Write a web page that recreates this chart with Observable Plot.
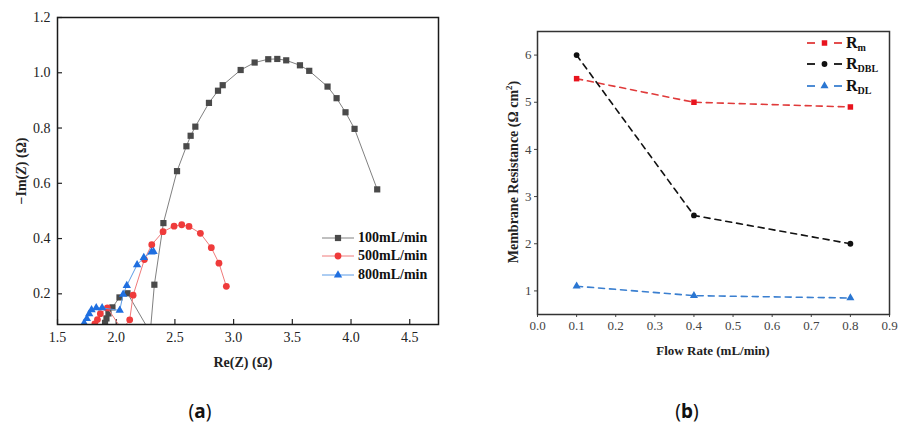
<!DOCTYPE html>
<html><head><meta charset="utf-8">
<script src="https://cdn.jsdelivr.net/npm/d3@7"></script>
<script src="https://cdn.jsdelivr.net/npm/@observablehq/plot@0.6"></script>
<style>
body{margin:0;background:#fff;}
#wrap{position:relative;width:899px;height:427px;overflow:hidden;background:#fff;font-family:"Liberation Serif",serif;color:#222}
.abs{position:absolute;white-space:nowrap}
.plot{position:absolute;top:0}
</style></head><body><div id="wrap"></div>
<script>
// ---------- Panel (a): Nyquist data ----------
const labelsA = ["100mL/min", "500mL/min", "800mL/min"];
const re100 = [1.905, 1.917, 1.934, 1.968, 2.028, 2.096, 2.29, 2.325, 2.402, 2.518, 2.598, 2.634, 2.674, 2.79, 2.867, 2.907, 3.06, 3.179, 3.295, 3.372, 3.448, 3.565, 3.644, 3.80, 3.877, 3.953, 4.03, 4.223];
const im100 = [0.095, 0.111, 0.129, 0.151, 0.187, 0.202, 0.06, 0.233, 0.456, 0.644, 0.734, 0.772, 0.805, 0.891, 0.935, 0.955, 1.01, 1.037, 1.049, 1.05, 1.045, 1.027, 1.007, 0.95, 0.908, 0.857, 0.797, 0.578];
const re500 = [1.818, 1.84, 1.865, 1.925, 2.05, 2.115, 2.144, 2.24, 2.303, 2.399, 2.493, 2.558, 2.62, 2.717, 2.81, 2.875, 2.938];
const im500 = [0.091, 0.107, 0.128, 0.149, 0.07, 0.106, 0.195, 0.324, 0.378, 0.425, 0.445, 0.45, 0.444, 0.419, 0.367, 0.311, 0.227];
const re800 = [1.727, 1.75, 1.77, 1.79, 1.83, 1.88, 2.03, 2.059, 2.09, 2.178, 2.235, 2.30, 2.318];
const im800 = [0.094, 0.11, 0.128, 0.142, 0.149, 0.149, 0.14, 0.198, 0.23, 0.305, 0.331, 0.351, 0.353];
const xTicksA = [1.5, 2.0, 2.5, 3.0, 3.5, 4.0, 4.5];
const yTicksA = [0.2, 0.4, 0.6, 0.8, 1.0, 1.2];

// ---------- Panel (b): membrane resistance ----------
const flowRate = [0.1, 0.4, 0.8];
const rM = [5.5, 5.0, 4.9];
const rDBL = [6.0, 2.6, 2.0];
const rDL = [1.1, 0.9, 0.85];
const labelsB = [["R", "m"], ["R", "DBL"], ["R", "DL"]];
const xTicksB = [0.0, 0.1, 0.2, 0.3, 0.4, 0.5, 0.6, 0.7, 0.8, 0.9];
const yTicksB = [1, 2, 3, 4, 5, 6];

const wrap = document.getElementById("wrap");
const rows = (xs, ys) => xs.map((x, i) => ({x, y: ys[i]}));
const SERIF = "'Liberation Serif', 'Times New Roman', serif";

// styles (kept separate from data)
const styleA = [
  {line: "#808080", fill: "#4a4a4a", symbol: "square", r: 3.5},
  {line: "#f07a7a", fill: "#ef3b3b", symbol: "circle", r: 3.4},
  {line: "#5b9be6", fill: "#1f6fe0", symbol: "triangle", r: 3.1}
];
const seriesA = [rows(re100, im100), rows(re500, im500), rows(re800, im800)];

const L = 57, R = 438, T = 17, B = 324, WA = 450, HA = 380;
const plotA = Plot.plot({
  width: WA, height: HA,
  marginLeft: L, marginRight: WA - R, marginTop: T, marginBottom: HA - B,
  style: {fontFamily: SERIF, fontSize: "14px", color: "#222", background: "transparent"},
  x: {domain: [1.5, 4.745], label: null},
  y: {domain: [0.089, 1.2], label: null},
  marks: [
    Plot.axisX(xTicksA, {tickFormat: d3.format(".1f"), tickSize: 0, tickPadding: 8, fontFamily: SERIF, fontSize: 14, label: null}),
    Plot.axisY(yTicksA, {tickFormat: d3.format(".1f"), tickSize: 0, tickPadding: 7, fontFamily: SERIF, fontSize: 14, label: null}),
    Plot.ruleX(xTicksA, {insetTop: (B - T) - 5, stroke: "#222", strokeWidth: 1.2}),
    Plot.ruleY(yTicksA, {insetRight: (R - L) - 5, stroke: "#222", strokeWidth: 1.2}),
    ...seriesA.flatMap((d, i) => [
      Plot.line(d, {x: "x", y: "y", stroke: styleA[i].line, strokeWidth: 1, clip: true}),
      Plot.dot(d, {x: "x", y: "y", symbol: styleA[i].symbol, r: styleA[i].r, fill: styleA[i].fill, clip: true})
    ]),
    Plot.frame({stroke: "#1a1a1a", strokeWidth: 1.5})
  ]
});
plotA.classList.add("plot");
plotA.style.left = "0px";
wrap.appendChild(plotA);

// Panel (b)
const styleB = [
  {line: "#e03a3a", fill: "#e8141e", symbol: "square", r: 3.1},
  {line: "#111111", fill: "#111111", symbol: "circle", r: 2.9},
  {line: "#3a7fd0", fill: "#2a76d2", symbol: "triangle", r: 3.0}
];
const seriesB = [rows(flowRate, rM), rows(flowRate, rDBL), rows(flowRate, rDL)];
const OX = 450, LB = 537, RB = 889, TB = 31, BB = 314, WB = 449, HB = 380;
const plotB = Plot.plot({
  width: WB, height: HB,
  marginLeft: LB - OX, marginRight: WB - (RB - OX), marginTop: TB, marginBottom: HB - BB,
  style: {fontFamily: SERIF, fontSize: "13px", color: "#444", background: "transparent"},
  x: {domain: [0, 0.9], label: null},
  y: {domain: [0.5, 6.5], label: null},
  marks: [
    Plot.axisX(xTicksB, {tickFormat: d3.format(".1f"), tickSize: 3, tickPadding: 3, fontFamily: SERIF, fontSize: 13, label: null}),
    Plot.axisY(yTicksB, {tickFormat: d3.format("d"), tickSize: 3, tickPadding: 3, fontFamily: SERIF, fontSize: 13, label: null}),
    ...seriesB.flatMap((d, i) => [
      Plot.line(d, {x: "x", y: "y", stroke: styleB[i].line, strokeWidth: 1.6, strokeDasharray: "6,5"}),
      Plot.dot(d, {x: "x", y: "y", symbol: styleB[i].symbol, r: styleB[i].r, fill: styleB[i].fill})
    ]),
    Plot.frame({stroke: "#333", strokeWidth: 1.5})
  ]
});
plotB.classList.add("plot");
plotB.style.left = OX + "px";
wrap.appendChild(plotB);

// force serif on all svg text
d3.selectAll("#wrap svg text, #wrap svg g").style("font-family", SERIF);

// ---------- text overlays ----------
function addText(html, x, y, css, anchor) {
  const d = document.createElement("div");
  d.className = "abs";
  d.innerHTML = html;
  d.style.left = x + "px";
  d.style.top = y + "px";
  d.style.transform = anchor || "translate(-50%,-50%)";
  Object.assign(d.style, css || {});
  wrap.appendChild(d);
  return d;
}
addText("−Im(<i>Z</i>) (Ω)", 22, 171, {fontWeight: "bold", fontSize: "14px"}, "translate(-50%,-50%) rotate(-90deg)");
addText("Re(Z) (Ω)", 243, 363, {fontWeight: "bold", fontSize: "14px"});
addText("Membrane Resistance (Ω cm<sup style='font-size:9px'>2</sup>)", 513, 172, {fontWeight: "bold", fontSize: "14px"}, "translate(-50%,-50%) rotate(-90deg)");
addText("Flow Rate (mL/min)", 713, 351, {fontWeight: "bold", fontSize: "13px"});
addText("(<b>a</b>)", 200, 411, {fontFamily: "'Noto Sans', sans-serif", fontSize: "19px", color: "#111"});
addText("(<b>b</b>)", 687, 411, {fontFamily: "'Noto Sans', sans-serif", fontSize: "19px", color: "#111"});

// legend swatches
function swatch(x0, x1, y, st, lw, split) {
  const w = x1 - x0;
  const svg = d3.create("svg").attr("width", w + 10).attr("height", 14)
    .style("position", "absolute").style("left", (x0 - 5) + "px").style("top", (y - 7) + "px");
  const segs = split ? [[0, 8], [w - 8, w]] : [[0, w]];
  for (const [a, b] of segs)
    svg.append("line").attr("x1", a + 5).attr("x2", b + 5).attr("y1", 7).attr("y2", 7)
      .attr("stroke", st.line).attr("stroke-width", lw);
  const sym = {square: d3.symbolSquare, circle: d3.symbolCircle, triangle: d3.symbolTriangle}[st.symbol];
  svg.append("path").attr("transform", `translate(${w / 2 + 5},7)`)
    .attr("d", d3.symbol(sym, Math.PI * st.r * st.r)()).attr("fill", st.fill);
  wrap.appendChild(svg.node());
}
const legYA = [237.7, 256, 274.7];
labelsA.forEach((t, i) => {
  swatch(322, 354, legYA[i], styleA[i], 1, false);
  addText(t, 358, legYA[i], {fontWeight: "bold", fontSize: "14px", color: "#111"}, "translate(0,-50%)");
});
const legYB = [42.7, 64.3, 86];
labelsB.forEach((t, i) => {
  swatch(807, 842, legYB[i], styleB[i], 1.8, true);
  addText(`${t[0]}<sub style="font-size:10px;vertical-align:-3px">${t[1]}</sub>`, 846, legYB[i],
    {fontWeight: "bold", fontSize: "16px", color: "#111"}, "translate(0,-50%)");
});
</script></body></html>
